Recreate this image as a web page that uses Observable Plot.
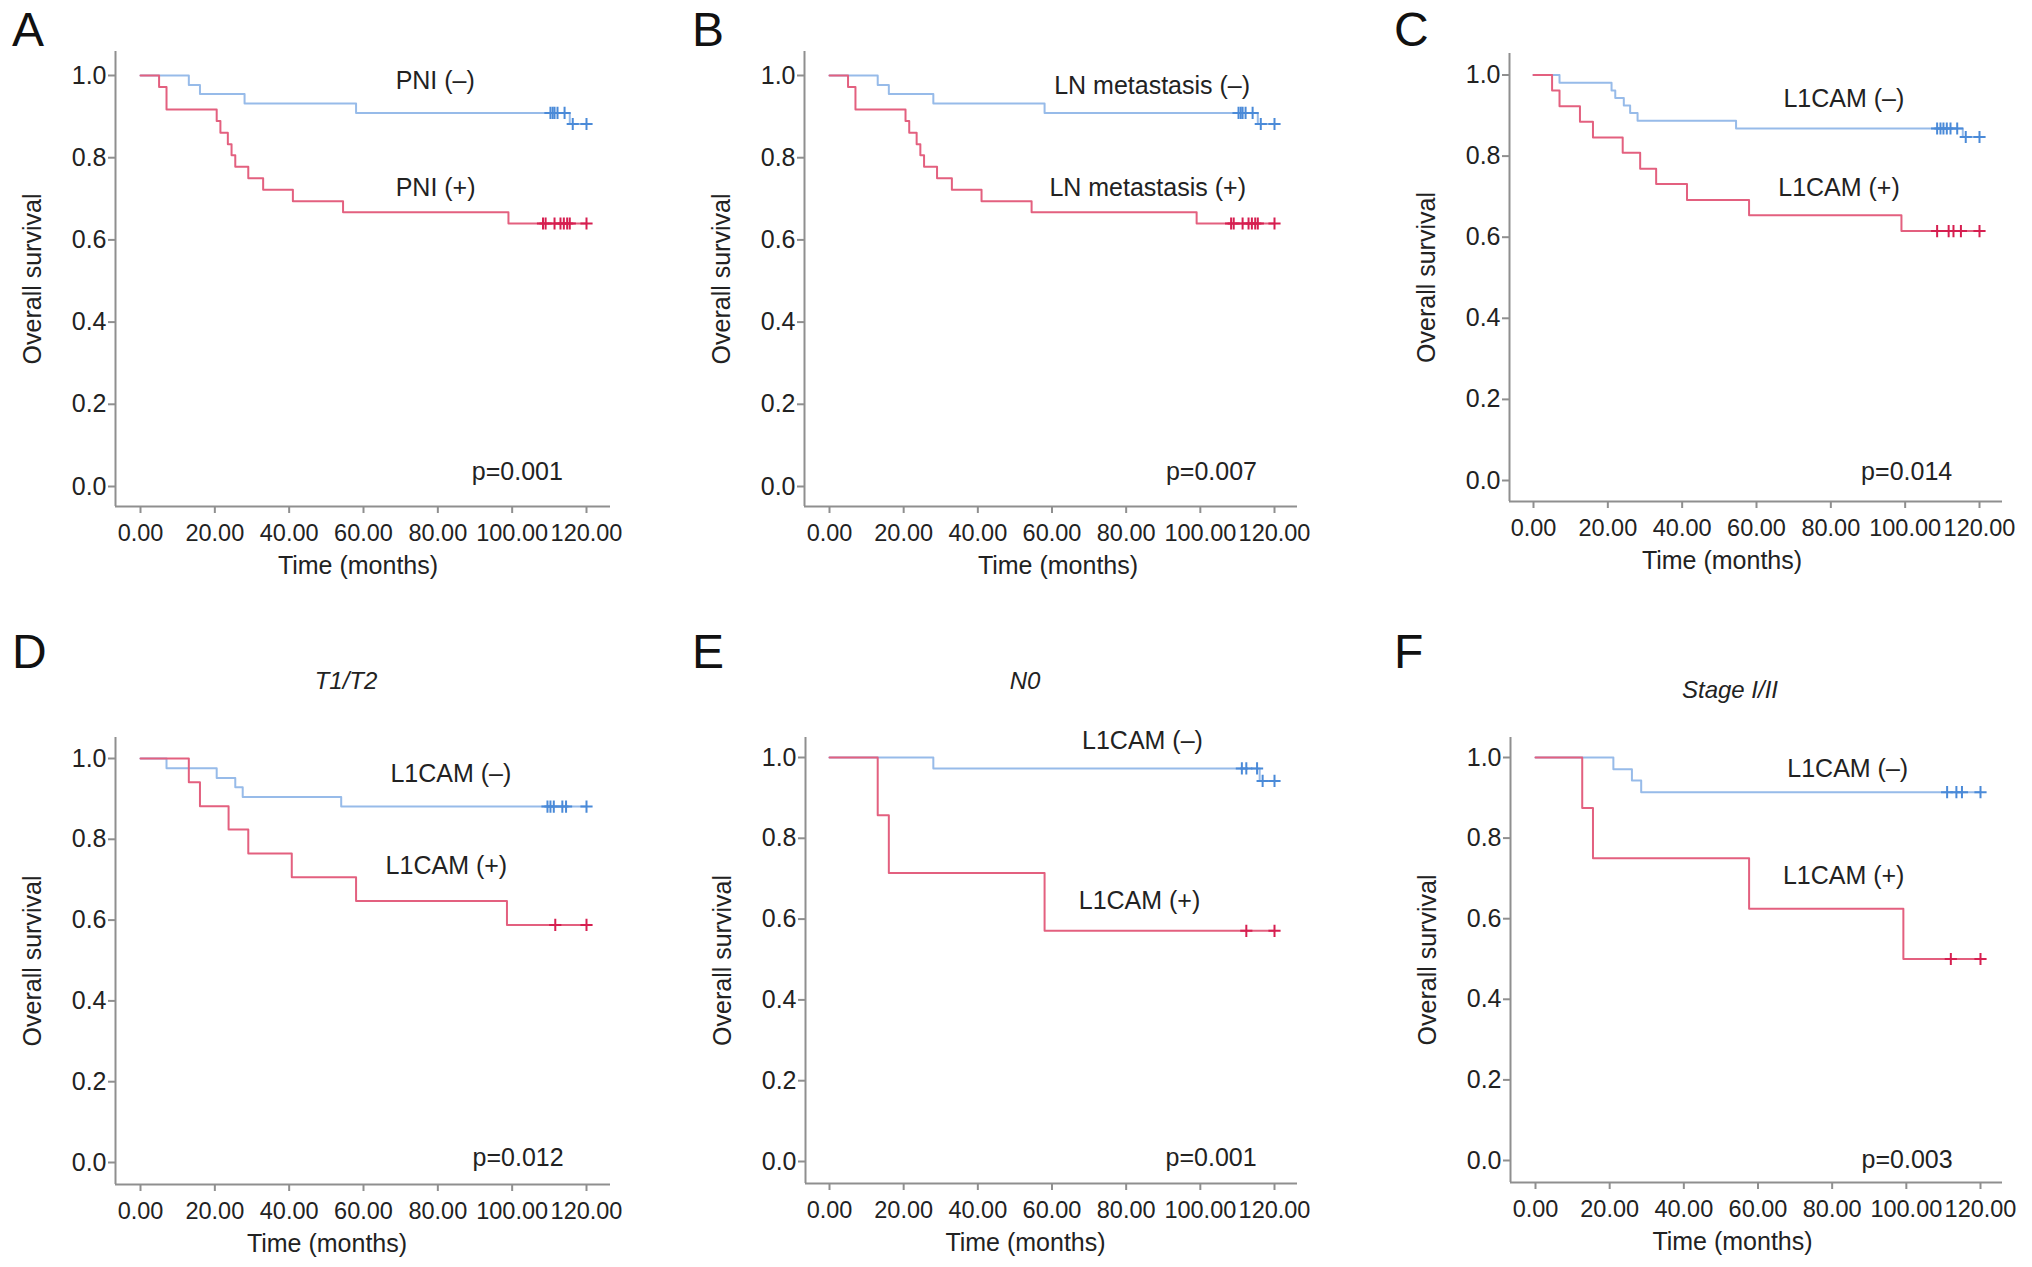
<!DOCTYPE html>
<html><head><meta charset="utf-8">
<script src="https://cdn.jsdelivr.net/npm/d3@7"></script>
<script src="https://cdn.jsdelivr.net/npm/@observablehq/plot@0.6"></script>
<style>
body{margin:0;background:#fff;}
#fig{position:relative;width:2032px;height:1267px;font-family:"Liberation Sans",Arial,Helvetica,sans-serif;overflow:hidden;}
.letter{position:absolute;font-size:48px;color:#111;line-height:1;}
.sub{position:absolute;font-size:24px;font-style:italic;color:#222;line-height:1;transform:translate(-50%,-50%);white-space:nowrap;}
.panel{position:absolute;}
</style></head><body><div id="fig"></div><script>
// ---- data ----
const monthTicks = [0, 20, 40, 60, 80, 100, 120];
const survTicks = [0, 0.2, 0.4, 0.6, 0.8, 1.0];

const aNegTime = [0, 13, 16, 28, 58, 115.5];
const aNegSurv = [1, 0.977, 0.955, 0.932, 0.909, 0.882];
const aNegCens = [110.3, 110.9, 111.4, 112.2, 114.1, 116.3, 120];
const aPosTime = [0, 5, 7, 20.5, 21.5, 23.5, 24.5, 25.5, 29, 33, 41, 54.5, 99];
const aPosSurv = [1, 0.972, 0.917, 0.889, 0.861, 0.833, 0.806, 0.778, 0.75, 0.722, 0.694, 0.667, 0.64];
const aPosCens = [108.3, 109, 111.4, 113, 113.9, 114.8, 115.5, 120];

const bNegTime = [0, 13, 16, 28, 58, 115.5];
const bNegSurv = [1, 0.977, 0.955, 0.932, 0.909, 0.882];
const bNegCens = [110.3, 110.9, 111.4, 112.2, 114.1, 116.3, 120];
const bPosTime = [0, 5, 7, 20.5, 21.5, 23.5, 24.5, 25.5, 29, 33, 41, 54.5, 99];
const bPosSurv = [1, 0.972, 0.917, 0.889, 0.861, 0.833, 0.806, 0.778, 0.75, 0.722, 0.694, 0.667, 0.64];
const bPosCens = [108.3, 109, 111.4, 113, 113.9, 114.8, 115.5, 120];

const cNegTime = [0, 7, 21, 22, 24.3, 26, 28, 54.5, 115.5];
const cNegSurv = [1, 0.981, 0.962, 0.943, 0.925, 0.906, 0.887, 0.868, 0.847];
const cNegCens = [108.6, 109.5, 110.3, 111.2, 112.2, 114, 116.3, 120];
const cPosTime = [0, 5, 7, 12.5, 16, 24, 28.7, 33, 41.3, 58, 99];
const cPosSurv = [1, 0.962, 0.923, 0.885, 0.846, 0.808, 0.769, 0.731, 0.692, 0.654, 0.615];
const cPosCens = [108.6, 111.7, 113, 115, 120];

const dNegTime = [0, 7, 20.5, 25.5, 27.5, 54];
const dNegSurv = [1, 0.976, 0.952, 0.929, 0.905, 0.881];
const dNegCens = [109.5, 110.3, 111.2, 113.5, 114.5, 120];
const dPosTime = [0, 13, 16, 23.7, 29, 40.7, 58, 98.6];
const dPosSurv = [1, 0.941, 0.882, 0.824, 0.765, 0.706, 0.647, 0.588];
const dPosCens = [111.6, 120];

const eNegTime = [0, 28, 116];
const eNegSurv = [1, 0.973, 0.942];
const eNegCens = [111.2, 112.4, 115.3, 116.8, 120];
const ePosTime = [0, 13, 16, 58];
const ePosSurv = [1, 0.857, 0.714, 0.571];
const ePosCens = [112.4, 120];

const fNegTime = [0, 21, 26, 28.5];
const fNegSurv = [1, 0.971, 0.943, 0.914];
const fNegCens = [111, 113.5, 115, 120];
const fPosTime = [0, 12.6, 15.5, 57.6, 99.2];
const fPosSurv = [1, 0.875, 0.75, 0.625, 0.5];
const fPosCens = [112, 120];

// ---- layout / styling config ----
const FONT = '"Liberation Sans", Arial, Helvetica, sans-serif';
const AXIS = "#8f8f8f";
const TEXT = "#222";
const NEG_LINE = "#97bbe9", NEG_MARK = "#4a8ad8";
const POS_LINE = "#e3607f", POS_MARK = "#d61f50";

const panels = [
  {letter: "A", lx: 12, ly: 6, neg: [aNegTime, aNegSurv, aNegCens], pos: [aPosTime, aPosSurv, aPosCens],
   negLabel: "PNI (–)", posLabel: "PNI (+)", p: "p=0.001",
   negAt: [79.3, 0.986], posAt: [79.4, 0.727], pAt: [101.4, 0.035], xLabelDx: -5,
   geo: {yAxisX: 115, x0: 140, x120: 586, right: 610, top: 51, y1: 75, y0: 486, axisY: 506}},
  {letter: "B", lx: 692, ly: 6, neg: [bNegTime, bNegSurv, bNegCens], pos: [bPosTime, bPosSurv, bPosCens],
   negLabel: "LN metastasis (–)", posLabel: "LN metastasis (+)", p: "p=0.007",
   negAt: [87, 0.975], posAt: [85.8, 0.727], pAt: [103, 0.035], xLabelDx: 7,
   geo: {yAxisX: 804, x0: 829, x120: 1274, right: 1297, top: 51, y1: 75, y0: 486, axisY: 506}},
  {letter: "C", lx: 1394, ly: 6, neg: [cNegTime, cNegSurv, cNegCens], pos: [cPosTime, cPosSurv, cPosCens],
   negLabel: "L1CAM (–)", posLabel: "L1CAM (+)", p: "p=0.014",
   negAt: [83.5, 0.941], posAt: [82.2, 0.722], pAt: [100.4, 0.021], xLabelDx: -34,
   geo: {yAxisX: 1509, x0: 1533, x120: 1979, right: 2002, top: 53, y1: 74.5, y0: 480, axisY: 501}},
  {letter: "D", lx: 12, ly: 628, sub: "T1/T2", sx: 346, sy: 681, neg: [dNegTime, dNegSurv, dNegCens], pos: [dPosTime, dPosSurv, dPosCens],
   negLabel: "L1CAM (–)", posLabel: "L1CAM (+)", p: "p=0.012",
   negAt: [83.5, 0.962], posAt: [82.3, 0.733], pAt: [101.6, 0.010], xLabelDx: -36,
   geo: {yAxisX: 115, x0: 140, x120: 586, right: 610, top: 737, y1: 758, y0: 1162, axisY: 1184}},
  {letter: "E", lx: 692, ly: 628, sub: "N0", sx: 1025, sy: 681, neg: [eNegTime, eNegSurv, eNegCens], pos: [ePosTime, ePosSurv, ePosCens],
   negLabel: "L1CAM (–)", posLabel: "L1CAM (+)", p: "p=0.001",
   negAt: [84.4, 1.041], posAt: [83.6, 0.646], pAt: [102.9, 0.008], xLabelDx: -26,
   geo: {yAxisX: 805, x0: 829, x120: 1274, right: 1297, top: 737, y1: 757, y0: 1161, axisY: 1183}},
  {letter: "F", lx: 1394, ly: 628, sub: "Stage I/II", sx: 1730, sy: 690, neg: [fNegTime, fNegSurv, fNegCens], pos: [fPosTime, fPosSurv, fPosCens],
   negLabel: "L1CAM (–)", posLabel: "L1CAM (+)", p: "p=0.003",
   negAt: [84.2, 0.972], posAt: [83.1, 0.706], pAt: [100.2, 0.002], xLabelDx: -24,
   geo: {yAxisX: 1510, x0: 1535, x120: 1980, right: 2002, top: 737, y1: 757, y0: 1160, axisY: 1182}}
];

function stepPoints([times, surv, cens]) {
  const pts = times.map((t, i) => ({t, s: surv[i]}));
  const end = d3.max(cens.concat(times));
  pts.push({t: end, s: surv[surv.length - 1]});
  return pts;
}
function censorPoints([times, surv, cens]) {
  return cens.map(c => {
    const i = d3.bisectRight(times, c) - 1;
    return {t: c, s: surv[Math.max(0, i)]};
  });
}

const fig = document.getElementById("fig");

for (const P of panels) {
  const g = P.geo;
  const k = (g.x120 - g.x0) / 120;
  const xmin = (g.yAxisX - g.x0) / k, xmax = (g.right - g.x0) / k;
  const u = g.y0 - g.y1;
  const ymax = (g.y0 - g.top) / u, ymin = (g.y0 - g.axisY) / u;
  const ML = 125, MR = 50, MT = 30, MB = 90;
  const width = (g.right - g.yAxisX) + ML + MR;
  const height = (g.axisY - g.top) + MT + MB;

  const chart = Plot.plot({
    width, height,
    marginLeft: ML, marginRight: MR, marginTop: MT, marginBottom: MB,
    style: {fontFamily: FONT, fontSize: "25px", color: TEXT, background: "transparent", overflow: "visible"},
    x: {domain: [xmin, xmax]},
    y: {domain: [ymin, ymax]},
    marks: [
      Plot.axisX(monthTicks, {tickFormat: d => d.toFixed(2), tickSize: 7, tickPadding: 11, stroke: AXIS, strokeWidth: 2, fill: TEXT, fontSize: 23.5, label: null}),
      Plot.axisY(survTicks, {tickFormat: d => d.toFixed(1), tickSize: 7, tickPadding: 2, stroke: AXIS, strokeWidth: 2, fill: TEXT, fontSize: 25,
        label: "Overall survival", labelAnchor: "center", labelOffset: 92, labelArrow: "none"}),
      Plot.ruleX([xmin], {stroke: AXIS, strokeWidth: 2}),
      Plot.ruleY([ymin], {stroke: AXIS, strokeWidth: 2}),
      Plot.line(stepPoints(P.neg), {x: "t", y: "s", curve: "step-after", stroke: NEG_LINE, strokeWidth: 2}),
      Plot.line(stepPoints(P.pos), {x: "t", y: "s", curve: "step-after", stroke: POS_LINE, strokeWidth: 2}),
      Plot.dot(censorPoints(P.neg), {x: "t", y: "s", symbol: "plus", r: 4, stroke: NEG_MARK, strokeWidth: 2}),
      Plot.dot(censorPoints(P.pos), {x: "t", y: "s", symbol: "plus", r: 4, stroke: POS_MARK, strokeWidth: 2}),
      Plot.text([P.negLabel], {x: P.negAt[0], y: P.negAt[1], fill: TEXT, fontSize: 25}),
      Plot.text([P.posLabel], {x: P.posAt[0], y: P.posAt[1], fill: TEXT, fontSize: 25}),
      Plot.text([P.p], {x: P.pAt[0], y: P.pAt[1], fill: TEXT, fontSize: 25}),
      Plot.text(["Time (months)"], {frameAnchor: "bottom", dy: 67, dx: P.xLabelDx, fill: TEXT, fontSize: 25})
    ]
  });
  chart.classList.add("panel");
  chart.style.left = (g.yAxisX - ML) + "px";
  chart.style.top = (g.top - MT) + "px";
  fig.appendChild(chart);

  const L = document.createElement("div");
  L.className = "letter";
  L.textContent = P.letter;
  L.style.left = P.lx + "px";
  L.style.top = P.ly + "px";
  fig.appendChild(L);

  if (P.sub) {
    const S = document.createElement("div");
    S.className = "sub";
    S.textContent = P.sub;
    S.style.left = P.sx + "px";
    S.style.top = P.sy + "px";
    fig.appendChild(S);
  }
}
</script></body></html>
